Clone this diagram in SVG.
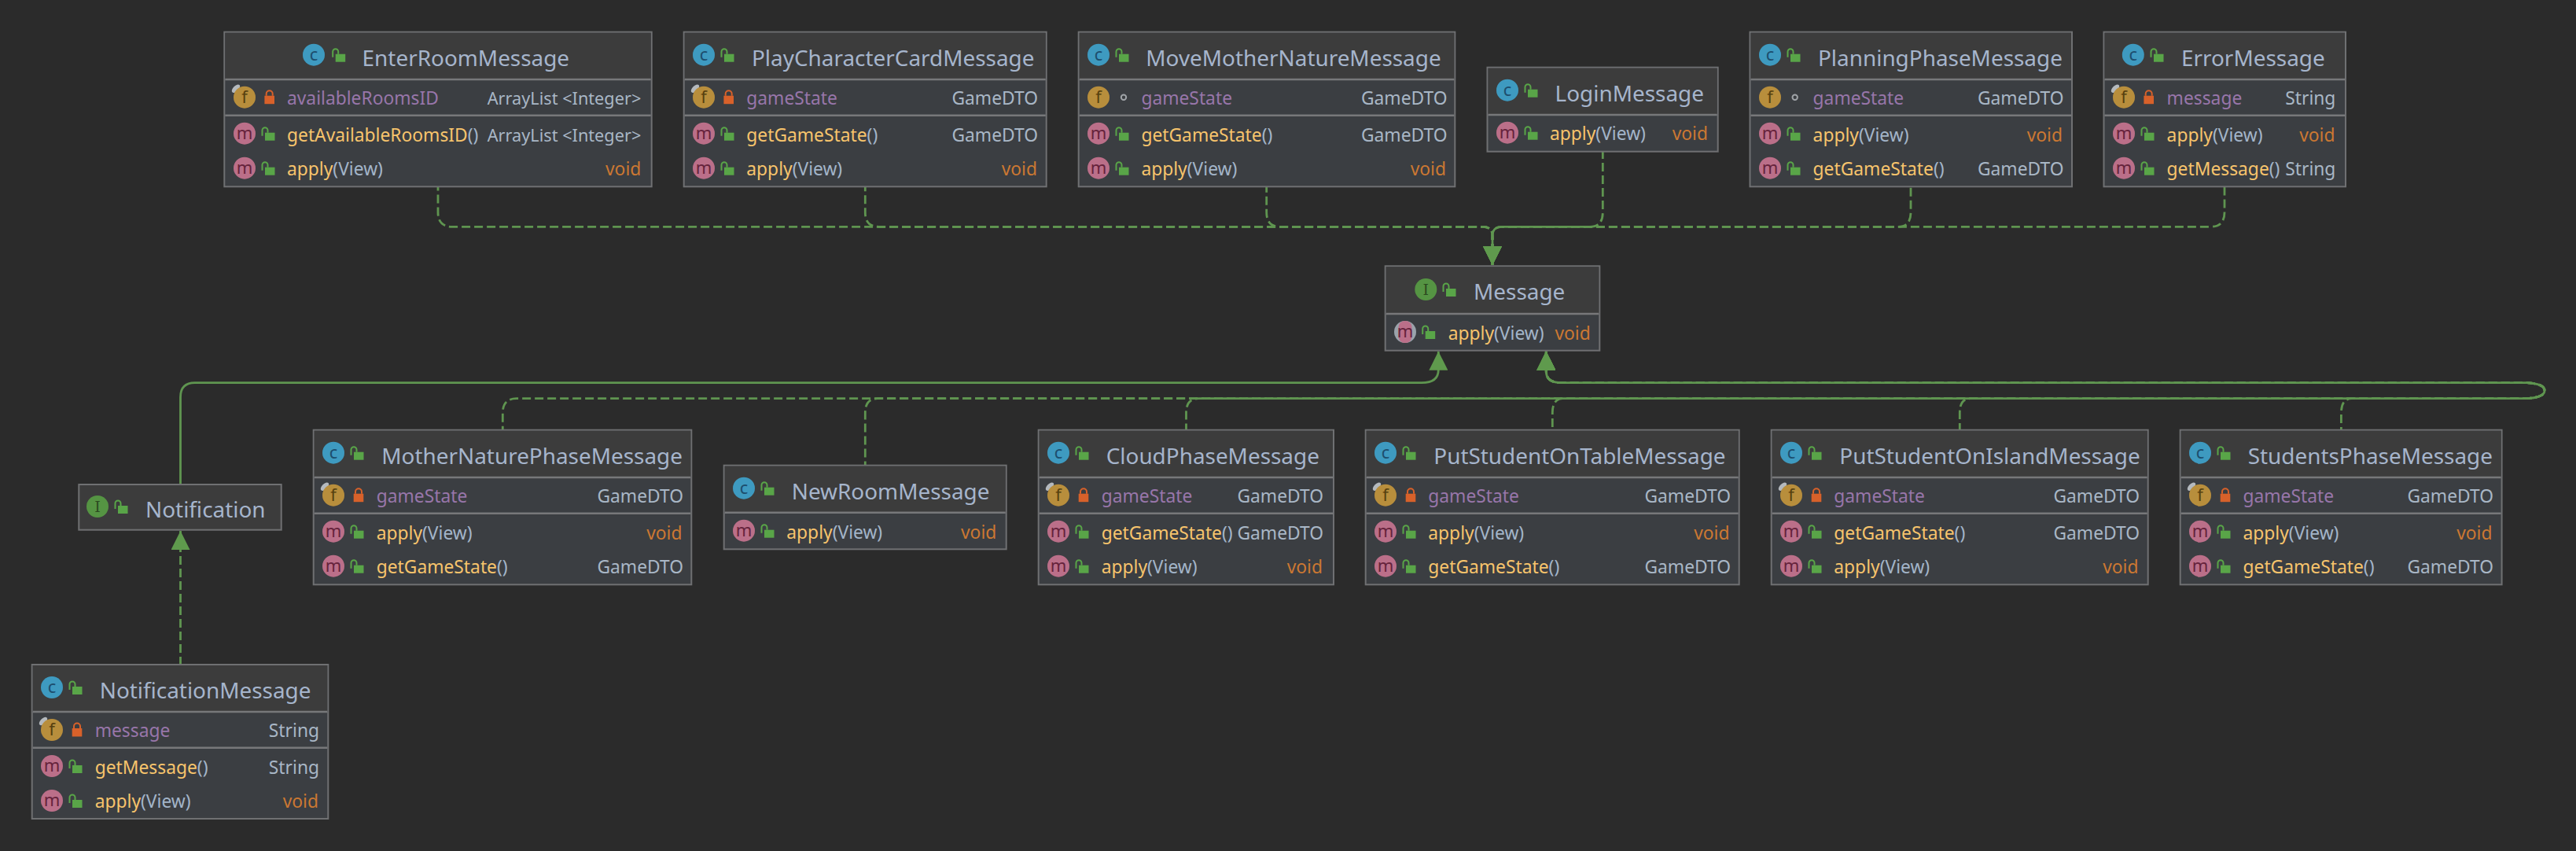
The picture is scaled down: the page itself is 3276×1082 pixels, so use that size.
<svg xmlns="http://www.w3.org/2000/svg" width="3276" height="1082" viewBox="0 0 3276 1082">
<style>
text{font-family:"Noto Sans","Open Sans","Liberation Sans",sans-serif}
.box{fill:#3b3e42;stroke:#6f7072;stroke-width:2}
.head{fill:#3c3c3c}
.sep{stroke:#77787a;stroke-width:2.5}
.title{font-size:27.9px;fill:#a6b5cc}
.f{font-size:22.8px;fill:#9876aa}
.m{font-size:22.8px;fill:#f7c46c}
.p{fill:#a3b5c9}
.ty{font-size:22.8px;fill:#a9b7c6;text-anchor:end}
.al{font-size:21.7px}
.v{font-size:22.8px;fill:#cc7832;text-anchor:end}
.ic{fill:#3e9ac0}.if{fill:#b88e3c}.im{fill:#bb6f89}.ii{fill:#559443}
.l{font-size:22px;text-anchor:middle}
.lc{fill:#1d4e6e}.lf{fill:#57400f}.lm{fill:#66233c}.li{fill:#2b4a20;font-family:"DejaVu Serif",serif;font-size:19px}
.c{fill:none;stroke:#5f9550;stroke-width:2.8}
.d{stroke-dasharray:11 5}
</style>
<defs>
<marker id="arrow" markerUnits="userSpaceOnUse" markerWidth="24" markerHeight="24" refX="24" refY="12" orient="auto-start-reverse"><path d="M0 0L24 12L0 24Z" fill="#5f9a4d"/></marker>
<g id="o"><rect x="-4" y="-1" width="12.5" height="10" fill="#59a548"/><path d="M-7.5 3V-4a3.5 3.5 0 0 1 7 0V-1" fill="none" stroke="#59a548" stroke-width="2"/></g>
<g id="x"><rect x="-6.3" y="-2" width="12.6" height="10.500" fill="#d8612a"/><path d="M-4 -2V-4.500a4 4 0 0 1 8 0V-2" fill="none" stroke="#d8612a" stroke-width="2"/></g>
<circle id="dot" r="3.200" fill="none" stroke="#a0a4a8" stroke-width="2"/>
<ellipse id="pin" rx="6.500" ry="3.500" transform="rotate(-45)" fill="#b4b9be"/>
</defs>
<rect width="3276" height="1082" fill="#2b2b2b"/>
<g id="connectors">
<path class="c d" marker-start="url(#arrow)" d="M1898 337V300Q1898 288.300 1886 288.300H575Q557 288.300 557 270V237"/>
<path class="c d" marker-start="url(#arrow)" d="M1898 337V300Q1898 288.300 1886 288.300H1118Q1100.300 288.300 1100.300 270V237"/>
<path class="c d" marker-start="url(#arrow)" d="M1898 337V300Q1898 288.300 1886 288.300H1628Q1610.700 288.300 1610.700 270V237"/>
<path class="c d" marker-start="url(#arrow)" d="M1898 337V300Q1898 288.300 1910 288.300H2811Q2829 288.300 2829 270V237"/>
<path class="c d" marker-start="url(#arrow)" d="M1898 337V300Q1898 288.300 1910 288.300H2414Q2430 288.300 2430 270V237"/>
<path class="c d" style="stroke-dashoffset:8" marker-start="url(#arrow)" d="M1898 337V300Q1898 288.300 1910 288.300H2022Q2038.300 288.300 2038.300 270V192.700"/>
<path class="c" marker-start="url(#arrow)" d="M1829.300 446.700V470Q1829.300 486.700 1808 486.700H248Q229.500 486.700 229.500 505V616"/>
<path class="c d" marker-start="url(#arrow)" d="M1966.300 446.700V472Q1966.300 486.700 1986 486.700H3214Q3236 488 3236 496.700Q3236 505 3214 506.700H657Q639.300 506.700 639.300 525V546.700"/>
<path class="c d" marker-start="url(#arrow)" d="M1966.300 446.700V472Q1966.300 486.700 1986 486.700H3214Q3236 488 3236 496.700Q3236 505 3214 506.700H1116Q1100.300 506.700 1100.300 525V591.700"/>
<path class="c d" style="stroke-dashoffset:8" marker-start="url(#arrow)" d="M1966.300 446.700V472Q1966.300 486.700 1986 486.700H3214Q3236 488 3236 496.700Q3236 505 3214 506.700H1524Q1508.500 506.700 1508.500 525V546.700"/>
<path class="c d" marker-start="url(#arrow)" d="M1966.300 446.700V472Q1966.300 486.700 1986 486.700H3214Q3236 488 3236 496.700Q3236 505 3214 506.700H1988Q1974.300 506.700 1974.300 525V546.700"/>
<path class="c d" marker-start="url(#arrow)" d="M1966.300 446.700V472Q1966.300 486.700 1986 486.700H3214Q3236 488 3236 496.700Q3236 505 3214 506.700H2506Q2492.300 506.700 2492.300 525V546.700"/>
<path class="c d" marker-start="url(#arrow)" d="M1966.300 446.700V472Q1966.300 486.700 1986 486.700H3214Q3236 488 3236 496.700Q3236 505 3214 506.700H2991Q2977.400 506.700 2977.400 525V546.700"/>
<path class="c d" marker-start="url(#arrow)" d="M229.500 675V845"/>
</g>

<g id="EnterRoomMessage" transform="translate(0,40.700)">
<rect class="box" x="285.300" width="543.400" height="196.600"/><rect class="head" x="286.300" y="1" width="541.400" height="59"/>
<line class="sep" x1="286.300" x2="827.700" y1="60.300" y2="60.300"/><line class="sep" x1="286.300" x2="827.700" y1="106" y2="106"/>
<circle class="ic" cx="399" cy="29" r="14"/><text class="l lc" x="399" y="36">c</text><use href="#o" x="430.700" y="29"/>
<text class="title" x="460.600" y="43.300">EnterRoomMessage</text>
<use href="#pin" transform="translate(300,72)"/><circle class="if" cx="311" cy="83" r="14"/><text class="l lf" x="311" y="90">f</text><use href="#x" x="342.700" y="83"/>
<text class="f" x="365" y="92.300">availableRoomsID</text><text class="ty al" x="815.300" y="92.300">ArrayList &lt;Integer&gt;</text>
<circle class="im" cx="311" cy="129" r="14"/><text class="l lm" x="311" y="136">m</text><use href="#o" x="341" y="129"/>
<text class="m" x="365" y="139.300">getAvailableRoomsID<tspan class="p">()</tspan></text><text class="ty al" x="815.300" y="139.300">ArrayList &lt;Integer&gt;</text>
<circle class="im" cx="311" cy="173" r="14"/><text class="l lm" x="311" y="180">m</text><use href="#o" x="341" y="173"/>
<text class="m" x="365" y="182.300">apply<tspan class="p">(View)</tspan></text><text class="v" x="815.300" y="182.300">void</text>
</g>

<g id="PlayCharacterCardMessage" transform="translate(0,40.700)">
<rect class="box" x="869.700" width="461" height="196.600"/><rect class="head" x="870.700" y="1" width="459" height="59"/>
<line class="sep" x1="870.700" x2="1329.700" y1="60.300" y2="60.300"/><line class="sep" x1="870.700" x2="1329.700" y1="106" y2="106"/>
<circle class="ic" cx="895" cy="29" r="14"/><text class="l lc" x="895" y="36">c</text><use href="#o" x="925" y="29"/>
<text class="title" x="956" y="43.300">PlayCharacterCardMessage</text>
<use href="#pin" transform="translate(884,72)"/><circle class="if" cx="895" cy="83" r="14"/><text class="l lf" x="895" y="90">f</text><use href="#x" x="926.700" y="83"/>
<text class="f" x="949.300" y="92.300">gameState</text><text class="ty" x="1320" y="92.300">GameDTO</text>
<circle class="im" cx="895" cy="129" r="14"/><text class="l lm" x="895" y="136">m</text><use href="#o" x="925" y="129"/>
<text class="m" x="949.300" y="139.300">getGameState<tspan class="p">()</tspan></text><text class="ty" x="1320" y="139.300">GameDTO</text>
<circle class="im" cx="895" cy="173" r="14"/><text class="l lm" x="895" y="180">m</text><use href="#o" x="925" y="173"/>
<text class="m" x="949.300" y="182.300">apply<tspan class="p">(View)</tspan></text><text class="v" x="1319" y="182.300">void</text>
</g>

<g id="MoveMotherNatureMessage" transform="translate(0,40.700)">
<rect class="box" x="1371.700" width="478.600" height="196.600"/><rect class="head" x="1372.700" y="1" width="476.600" height="59"/>
<line class="sep" x1="1372.700" x2="1849.300" y1="60.300" y2="60.300"/><line class="sep" x1="1372.700" x2="1849.300" y1="106" y2="106"/>
<circle class="ic" cx="1397" cy="29" r="14"/><text class="l lc" x="1397" y="36">c</text><use href="#o" x="1427" y="29"/>
<text class="title" x="1457.300" y="43.300">MoveMotherNatureMessage</text>
<circle class="if" cx="1397" cy="83" r="14"/><text class="l lf" x="1397" y="90">f</text><use href="#dot" x="1429" y="83"/>
<text class="f" x="1451.400" y="92.300">gameState</text><text class="ty" x="1840.500" y="92.300">GameDTO</text>
<circle class="im" cx="1397" cy="129" r="14"/><text class="l lm" x="1397" y="136">m</text><use href="#o" x="1427" y="129"/>
<text class="m" x="1451.400" y="139.300">getGameState<tspan class="p">()</tspan></text><text class="ty" x="1840.500" y="139.300">GameDTO</text>
<circle class="im" cx="1397" cy="173" r="14"/><text class="l lm" x="1397" y="180">m</text><use href="#o" x="1427" y="173"/>
<text class="m" x="1451.400" y="182.300">apply<tspan class="p">(View)</tspan></text><text class="v" x="1839" y="182.300">void</text>
</g>

<g id="LoginMessage" transform="translate(0,85.700)">
<rect class="box" x="1891.500" width="293.200" height="107"/><rect class="head" x="1892.500" y="1" width="291.200" height="59"/>
<line class="sep" x1="1892.500" x2="2183.700" y1="60.300" y2="60.300"/>
<circle class="ic" cx="1917" cy="29" r="14"/><text class="l lc" x="1917" y="36">c</text><use href="#o" x="1947" y="29"/>
<text class="title" x="1977.600" y="43.300">LoginMessage</text>
<circle class="im" cx="1917" cy="83" r="14"/><text class="l lm" x="1917" y="90">m</text><use href="#o" x="1947" y="83"/>
<text class="m" x="1971" y="92.600">apply<tspan class="p">(View)</tspan></text><text class="v" x="2172" y="92.600">void</text>
</g>

<g id="PlanningPhaseMessage" transform="translate(0,40.700)">
<rect class="box" x="2225.500" width="409.500" height="196.600"/><rect class="head" x="2226.500" y="1" width="407.500" height="59"/>
<line class="sep" x1="2226.500" x2="2634" y1="60.300" y2="60.300"/><line class="sep" x1="2226.500" x2="2634" y1="106" y2="106"/>
<circle class="ic" cx="2251" cy="29" r="14"/><text class="l lc" x="2251" y="36">c</text><use href="#o" x="2281" y="29"/>
<text class="title" x="2312" y="43.300">PlanningPhaseMessage</text>
<circle class="if" cx="2251" cy="83" r="14"/><text class="l lf" x="2251" y="90">f</text><use href="#dot" x="2282.700" y="83"/>
<text class="f" x="2305.600" y="92.300">gameState</text><text class="ty" x="2624.500" y="92.300">GameDTO</text>
<circle class="im" cx="2251" cy="129" r="14"/><text class="l lm" x="2251" y="136">m</text><use href="#o" x="2281" y="129"/>
<text class="m" x="2305.600" y="139.300">apply<tspan class="p">(View)</tspan></text><text class="v" x="2623" y="139.300">void</text>
<circle class="im" cx="2251" cy="173" r="14"/><text class="l lm" x="2251" y="180">m</text><use href="#o" x="2281" y="173"/>
<text class="m" x="2305.600" y="182.300">getGameState<tspan class="p">()</tspan></text><text class="ty" x="2624.500" y="182.300">GameDTO</text>
</g>

<g id="ErrorMessage" transform="translate(0,40.700)">
<rect class="box" x="2675.500" width="307.500" height="196.600"/><rect class="head" x="2676.500" y="1" width="305.500" height="59"/>
<line class="sep" x1="2676.500" x2="2982" y1="60.300" y2="60.300"/><line class="sep" x1="2676.500" x2="2982" y1="106" y2="106"/>
<circle class="ic" cx="2712.800" cy="29" r="14"/><text class="l lc" x="2712.800" y="36">c</text><use href="#o" x="2743" y="29"/>
<text class="title" x="2774" y="43.300">ErrorMessage</text>
<use href="#pin" transform="translate(2690,72)"/><circle class="if" cx="2701" cy="83" r="14"/><text class="l lf" x="2701" y="90">f</text><use href="#x" x="2732.700" y="83"/>
<text class="f" x="2755.600" y="92.300">message</text><text class="ty" x="2970.400" y="92.300">String</text>
<circle class="im" cx="2701" cy="129" r="14"/><text class="l lm" x="2701" y="136">m</text><use href="#o" x="2731" y="129"/>
<text class="m" x="2755.600" y="139.300">apply<tspan class="p">(View)</tspan></text><text class="v" x="2969.500" y="139.300">void</text>
<circle class="im" cx="2701" cy="173" r="14"/><text class="l lm" x="2701" y="180">m</text><use href="#o" x="2731" y="173"/>
<text class="m" x="2755.600" y="182.300">getMessage<tspan class="p">()</tspan></text><text class="ty" x="2970.400" y="182.300">String</text>
</g>

<g id="Message" transform="translate(0,338.300)">
<rect class="box" x="1761.700" width="272.600" height="107.400"/><rect class="head" x="1762.700" y="1" width="270.600" height="59.500"/>
<line class="sep" x1="1762.700" x2="2033.300" y1="60.700" y2="60.700"/>
<circle class="ii" cx="1813.300" cy="29.700" r="14"/><text class="l li" x="1813.300" y="36.500">I</text><use href="#o" x="1843" y="29.700"/>
<text class="title" x="1874" y="42.700">Message</text>
<circle cx="1787" cy="83.700" r="14" fill="#9aa3ab"/><rect x="1778.500" y="69.700" width="17" height="28" rx="8" fill="#bb6f89"/><text class="l lm" x="1787" y="90.700">m</text><use href="#o" x="1816.700" y="83.700"/>
<text class="m" x="1841.700" y="93.700">apply<tspan class="p">(View)</tspan></text><text class="v" x="2022.700" y="93.700">void</text>
</g>

<g id="Notification" transform="translate(0,616)">
<rect class="box" x="100.300" width="257.400" height="57.700" style="fill:#3c3c3c"/>
<circle class="ii" cx="124" cy="28" r="14"/><text class="l li" x="124" y="34.800">I</text><use href="#o" x="154" y="28"/>
<text class="title" x="185" y="42">Notification</text>
</g>

<g id="MotherNaturePhaseMessage" transform="translate(0,546.700)">
<rect class="box" x="398.700" width="480.600" height="196.600"/><rect class="head" x="399.700" y="1" width="478.600" height="59"/>
<line class="sep" x1="399.700" x2="878.300" y1="60.300" y2="60.300"/><line class="sep" x1="399.700" x2="878.300" y1="106" y2="106"/>
<circle class="ic" cx="424" cy="29" r="14"/><text class="l lc" x="424" y="36">c</text><use href="#o" x="454" y="29"/>
<text class="title" x="485.300" y="43.300">MotherNaturePhaseMessage</text>
<use href="#pin" transform="translate(413,72)"/><circle class="if" cx="424" cy="83" r="14"/><text class="l lf" x="424" y="90">f</text><use href="#x" x="456" y="83"/>
<text class="f" x="478.700" y="92.300">gameState</text><text class="ty" x="869" y="92.300">GameDTO</text>
<circle class="im" cx="424" cy="129" r="14"/><text class="l lm" x="424" y="136">m</text><use href="#o" x="454" y="129"/>
<text class="m" x="478.700" y="139.300">apply<tspan class="p">(View)</tspan></text><text class="v" x="867.500" y="139.300">void</text>
<circle class="im" cx="424" cy="173" r="14"/><text class="l lm" x="424" y="180">m</text><use href="#o" x="454" y="173"/>
<text class="m" x="478.700" y="182.300">getGameState<tspan class="p">()</tspan></text><text class="ty" x="869" y="182.300">GameDTO</text>
</g>

<g id="NewRoomMessage" transform="translate(0,591.700)">
<rect class="box" x="920.700" width="359" height="106.600"/><rect class="head" x="921.700" y="1" width="357" height="59"/>
<line class="sep" x1="921.700" x2="1278.700" y1="60" y2="60"/>
<circle class="ic" cx="946" cy="29" r="14"/><text class="l lc" x="946" y="36">c</text><use href="#o" x="976" y="29"/>
<text class="title" x="1006.700" y="43.300">NewRoomMessage</text>
<circle class="im" cx="946" cy="83" r="14"/><text class="l lm" x="946" y="90">m</text><use href="#o" x="976" y="83"/>
<text class="m" x="1000.300" y="93">apply<tspan class="p">(View)</tspan></text><text class="v" x="1267.300" y="93">void</text>
</g>

<g id="CloudPhaseMessage" transform="translate(0,546.700)">
<rect class="box" x="1320.700" width="375.300" height="196.600"/><rect class="head" x="1321.700" y="1" width="373.300" height="59"/>
<line class="sep" x1="1321.700" x2="1695" y1="60.300" y2="60.300"/><line class="sep" x1="1321.700" x2="1695" y1="106" y2="106"/>
<circle class="ic" cx="1346" cy="29" r="14"/><text class="l lc" x="1346" y="36">c</text><use href="#o" x="1376" y="29"/>
<text class="title" x="1406.700" y="43.300">CloudPhaseMessage</text>
<use href="#pin" transform="translate(1335,72)"/><circle class="if" cx="1346" cy="83" r="14"/><text class="l lf" x="1346" y="90">f</text><use href="#x" x="1378" y="83"/>
<text class="f" x="1400.700" y="92.300">gameState</text><text class="ty" x="1683" y="92.300">GameDTO</text>
<circle class="im" cx="1346" cy="129" r="14"/><text class="l lm" x="1346" y="136">m</text><use href="#o" x="1376" y="129"/>
<text class="m" x="1400.700" y="139.300">getGameState<tspan class="p">()</tspan></text><text class="ty" x="1683" y="139.300">GameDTO</text>
<circle class="im" cx="1346" cy="173" r="14"/><text class="l lm" x="1346" y="180">m</text><use href="#o" x="1376" y="173"/>
<text class="m" x="1400.700" y="182.300">apply<tspan class="p">(View)</tspan></text><text class="v" x="1682" y="182.300">void</text>
</g>

<g id="PutStudentOnTableMessage" transform="translate(0,546.700)">
<rect class="box" x="1736.700" width="475" height="196.600"/><rect class="head" x="1737.700" y="1" width="473" height="59"/>
<line class="sep" x1="1737.700" x2="2210.700" y1="60.300" y2="60.300"/><line class="sep" x1="1737.700" x2="2210.700" y1="106" y2="106"/>
<circle class="ic" cx="1762" cy="29" r="14"/><text class="l lc" x="1762" y="36">c</text><use href="#o" x="1792" y="29"/>
<text class="title" x="1823.300" y="43.300">PutStudentOnTableMessage</text>
<use href="#pin" transform="translate(1751,72)"/><circle class="if" cx="1762" cy="83" r="14"/><text class="l lf" x="1762" y="90">f</text><use href="#x" x="1794" y="83"/>
<text class="f" x="1816.300" y="92.300">gameState</text><text class="ty" x="2201" y="92.300">GameDTO</text>
<circle class="im" cx="1762" cy="129" r="14"/><text class="l lm" x="1762" y="136">m</text><use href="#o" x="1792" y="129"/>
<text class="m" x="1816.300" y="139.300">apply<tspan class="p">(View)</tspan></text><text class="v" x="2199.500" y="139.300">void</text>
<circle class="im" cx="1762" cy="173" r="14"/><text class="l lm" x="1762" y="180">m</text><use href="#o" x="1792" y="173"/>
<text class="m" x="1816.300" y="182.300">getGameState<tspan class="p">()</tspan></text><text class="ty" x="2201" y="182.300">GameDTO</text>
</g>

<g id="PutStudentOnIslandMessage" transform="translate(0,546.700)">
<rect class="box" x="2252.700" width="479" height="196.600"/><rect class="head" x="2253.700" y="1" width="477" height="59"/>
<line class="sep" x1="2253.700" x2="2730.700" y1="60.300" y2="60.300"/><line class="sep" x1="2253.700" x2="2730.700" y1="106" y2="106"/>
<circle class="ic" cx="2278" cy="29" r="14"/><text class="l lc" x="2278" y="36">c</text><use href="#o" x="2308" y="29"/>
<text class="title" x="2339.300" y="43.300">PutStudentOnIslandMessage</text>
<use href="#pin" transform="translate(2267,72)"/><circle class="if" cx="2278" cy="83" r="14"/><text class="l lf" x="2278" y="90">f</text><use href="#x" x="2310" y="83"/>
<text class="f" x="2332.300" y="92.300">gameState</text><text class="ty" x="2721" y="92.300">GameDTO</text>
<circle class="im" cx="2278" cy="129" r="14"/><text class="l lm" x="2278" y="136">m</text><use href="#o" x="2308" y="129"/>
<text class="m" x="2332.300" y="139.300">getGameState<tspan class="p">()</tspan></text><text class="ty" x="2721" y="139.300">GameDTO</text>
<circle class="im" cx="2278" cy="173" r="14"/><text class="l lm" x="2278" y="180">m</text><use href="#o" x="2308" y="173"/>
<text class="m" x="2332.300" y="182.300">apply<tspan class="p">(View)</tspan></text><text class="v" x="2719.500" y="182.300">void</text>
</g>

<g id="StudentsPhaseMessage" transform="translate(0,546.700)">
<rect class="box" x="2772.700" width="408.900" height="196.600"/><rect class="head" x="2773.700" y="1" width="406.900" height="59"/>
<line class="sep" x1="2773.700" x2="3180.600" y1="60.300" y2="60.300"/><line class="sep" x1="2773.700" x2="3180.600" y1="106" y2="106"/>
<circle class="ic" cx="2798" cy="29" r="14"/><text class="l lc" x="2798" y="36">c</text><use href="#o" x="2828" y="29"/>
<text class="title" x="2858.700" y="43.300">StudentsPhaseMessage</text>
<use href="#pin" transform="translate(2787,72)"/><circle class="if" cx="2798" cy="83" r="14"/><text class="l lf" x="2798" y="90">f</text><use href="#x" x="2830" y="83"/>
<text class="f" x="2852.500" y="92.300">gameState</text><text class="ty" x="3171" y="92.300">GameDTO</text>
<circle class="im" cx="2798" cy="129" r="14"/><text class="l lm" x="2798" y="136">m</text><use href="#o" x="2828" y="129"/>
<text class="m" x="2852.500" y="139.300">apply<tspan class="p">(View)</tspan></text><text class="v" x="3169.500" y="139.300">void</text>
<circle class="im" cx="2798" cy="173" r="14"/><text class="l lm" x="2798" y="180">m</text><use href="#o" x="2828" y="173"/>
<text class="m" x="2852.500" y="182.300">getGameState<tspan class="p">()</tspan></text><text class="ty" x="3171" y="182.300">GameDTO</text>
</g>

<g id="NotificationMessage" transform="translate(0,845)">
<rect class="box" x="40.700" width="376.600" height="196"/><rect class="head" x="41.700" y="1" width="374.600" height="59"/>
<line class="sep" x1="41.700" x2="416.300" y1="60" y2="60"/><line class="sep" x1="41.700" x2="416.300" y1="105.700" y2="105.700"/>
<circle class="ic" cx="66" cy="29" r="14"/><text class="l lc" x="66" y="36">c</text><use href="#o" x="96" y="29"/>
<text class="title" x="126.700" y="42.500">NotificationMessage</text>
<use href="#pin" transform="translate(55,72)"/><circle class="if" cx="66" cy="83" r="14"/><text class="l lf" x="66" y="90">f</text><use href="#x" x="98" y="83"/>
<text class="f" x="120.700" y="92.300">message</text><text class="ty" x="406" y="92.300">String</text>
<circle class="im" cx="66" cy="129" r="14"/><text class="l lm" x="66" y="136">m</text><use href="#o" x="96" y="129"/>
<text class="m" x="120.700" y="139">getMessage<tspan class="p">()</tspan></text><text class="ty" x="406" y="139">String</text>
<circle class="im" cx="66" cy="173" r="14"/><text class="l lm" x="66" y="180">m</text><use href="#o" x="96" y="173"/>
<text class="m" x="120.700" y="182">apply<tspan class="p">(View)</tspan></text><text class="v" x="405" y="182">void</text>
</g>
</svg>
